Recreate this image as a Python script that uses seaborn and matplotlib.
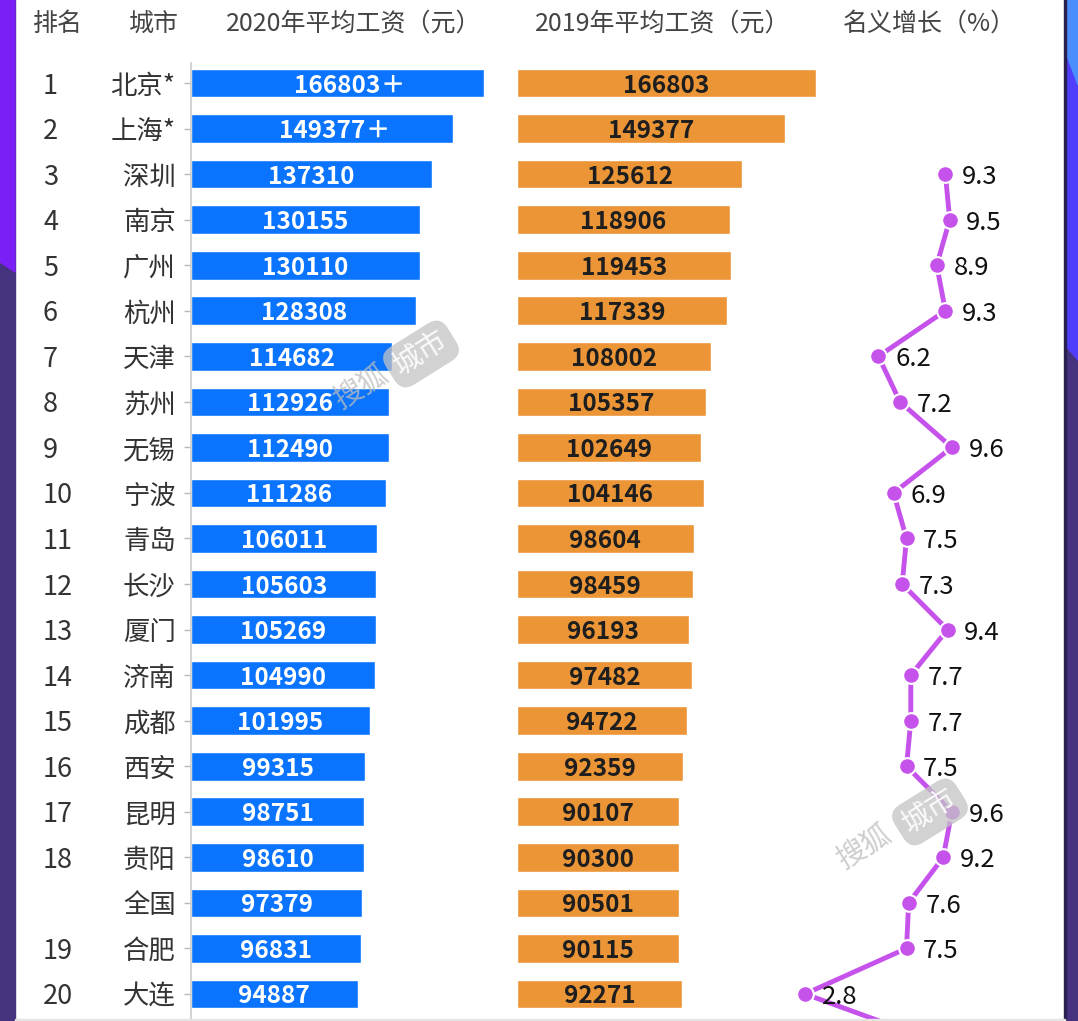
import numpy as np
import pandas as pd
import matplotlib
matplotlib.use("Agg")
import matplotlib.pyplot as plt
import matplotlib.transforms as mtrans
from matplotlib.patches import Polygon, Rectangle
import seaborn as sns

# ---------------- data ----------------
ranks = ['1', '2', '3', '4', '5', '6', '7', '8', '9', '10', '11', '12', '13', '14',
         '15', '16', '17', '18', '', '19', '20']
cities = ['北京*', '上海*', '深圳', '南京', '广州', '杭州', '天津', '苏州', '无锡', '宁波',
          '青岛', '长沙', '厦门', '济南', '成都', '西安', '昆明', '贵阳', '全国', '合肥', '大连']
wage_2020 = [166803, 149377, 137310, 130155, 130110, 128308, 114682, 112926, 112490, 111286,
             106011, 105603, 105269, 104990, 101995, 99315, 98751, 98610, 97379, 96831, 94887]
wage_2020_suffix = ['＋', '＋'] + [''] * 19
wage_2019 = [166803, 149377, 125612, 118906, 119453, 117339, 108002, 105357, 102649, 104146,
             98604, 98459, 96193, 97482, 94722, 92359, 90107, 90300, 90501, 90115, 92271]
growth = [np.nan, np.nan, 9.3, 9.5, 8.9, 9.3, 6.2, 7.2, 9.6, 6.9, 7.5, 7.3, 9.4, 7.7, 7.7,
          7.5, 9.6, 9.2, 7.6, 7.5, 2.8]
growth_next_row = [8.6]   # the cut-off row below the visible area
headers = ['排名', '城市', '2020年平均工资（元）', '2019年平均工资（元）', '名义增长（%）']

# ---------------- style ----------------
sns.set_theme(style='white')
plt.rcParams['font.family'] = ['Noto Sans CJK SC', 'DejaVu Sans']
plt.rcParams['axes.unicode_minus'] = False

W, H = 1078, 1021
fig = plt.figure(figsize=(W / 100, H / 100), dpi=100, facecolor='white')

def fx(px):
    return px / W

def fy(py):
    return 1 - py / H

BLUE = '#0A74FF'
ORANGE = '#EB9537'
PURPLE = '#C652EC'
VA = 'center_baseline'

# side strips of the screenshot
bg = [
    Rectangle((0, 0), fx(15), 1, color='#46337F'),
    Polygon([(0, 1), (fx(15), 1), (fx(15), fy(272)), (0, fy(262))], closed=True, color='#7A1FF6'),
    Rectangle((fx(1065), 0), 1 - fx(1065), 1, color='#46337F'),
    Polygon([(fx(1065), 1), (1, 1), (1, fy(360)), (fx(1065), fy(345))], closed=True, color='#4F3FFD'),
    Polygon([(fx(1065), 1), (1, 1), (1, fy(85)), (fx(1065), fy(50))], closed=True, color='#4A8DFE'),
    Rectangle((fx(1064), 0), fx(2), 1, color='#2A2050'),
    Rectangle((fx(15), 0), fx(1050), fy(1019), color='#E4E4E4'),
]
for p in bg:
    p.set_transform(fig.transFigure)
    fig.patches.append(p)

bottom = fy(1019)
height = fy(63) - bottom
ylim = (20.55, -0.44)

df = pd.DataFrame({'city': cities, 'w2020': wage_2020, 'w2019': wage_2019})

# ---------------- 2020 bars ----------------
ax1 = fig.add_axes([fx(191), bottom, fx(298.6), height])
ax1.set_facecolor('none')
sns.barplot(data=df, x='w2020', y='city', orient='h', color=BLUE, saturation=1,
            width=0.63, ax=ax1)
ax1.set_xlim(0, 170000)
ax1.set_ylim(*ylim)
ax1.set_xlabel('')
ax1.set_ylabel('')
ax1.set_xticks([])
for s in ['top', 'right', 'bottom']:
    ax1.spines[s].set_visible(False)
ax1.spines['left'].set_color('#CCCCCC')
ax1.spines['left'].set_linewidth(1.2)
ax1.tick_params(axis='y', length=5, width=1, color='#BBBBBB', pad=6,
                labelsize=19, labelcolor='#333333', left=True)
for lab in ax1.get_yticklabels():
    lab.set_verticalalignment(VA)
for i, (v, suf) in enumerate(zip(wage_2020, wage_2020_suffix)):
    t = ax1.text(v / 2, i, f'{v}', ha='center', va=VA, color='white',
                 fontsize=17.5, fontweight='bold')
    if suf:
        ax1.annotate(suf, xy=(1, 0.5), xycoords=t, ha='left', va='center',
                     color='white', fontsize=17.5, fontweight='bold')

# rank column
rank_tr = mtrans.blended_transform_factory(fig.transFigure, ax1.transData)
for i, r in enumerate(ranks):
    fig.text(fx(43), i, r, transform=rank_tr, ha='left', va=VA,
             fontsize=19.5, color='#333333')

# ---------------- 2019 bars ----------------
ax2 = fig.add_axes([fx(517), bottom, fx(304.7), height])
ax2.set_facecolor('none')
sns.barplot(data=df, x='w2019', y='city', orient='h', color=ORANGE, saturation=1,
            width=0.63, ax=ax2)
ax2.set_xlim(0, 170000)
ax2.set_ylim(*ylim)
ax2.set_xlabel('')
ax2.set_ylabel('')
ax2.set_xticks([])
ax2.set_yticks([])
for s in ax2.spines.values():
    s.set_visible(False)
for i, v in enumerate(wage_2019):
    ax2.text(v / 2, i, f'{v}', ha='center', va=VA, color='#1E1E1E',
             fontsize=17.5, fontweight='bold')

# ---------------- growth line ----------------
ax3 = fig.add_axes([fx(744.5), bottom, fx(302.4), height])
ax3.set_facecolor('none')
g_all = growth + growth_next_row
pos = list(range(len(g_all)))
sns.lineplot(x=g_all, y=pos, sort=False, estimator=None, color=PURPLE,
             linewidth=3.5, marker='o', markersize=12, markeredgecolor='white',
             markeredgewidth=1.5, ax=ax3)
ax3.set_xlim(0, 14)
ax3.set_ylim(*ylim)
ax3.set_xticks([])
ax3.set_yticks([])
ax3.set_xlabel('')
ax3.set_ylabel('')
for s in ax3.spines.values():
    s.set_visible(False)
for i, g in enumerate(growth):
    if not np.isnan(g):
        ax3.annotate(f'{g}', xy=(g, i), xytext=(12, 0), textcoords='offset points',
                     ha='left', va=VA, fontsize=18.5, color='#111111')

# ---------------- headers ----------------
hx = [58, 154, 354, 663, 929]
for x, h in zip(hx, headers):
    fig.text(fx(x), fy(21), h, ha='center', va=VA, fontsize=18, color='#444444')

# ---------------- watermarks ----------------
for (sx, sy), (cx, cy) in [((362, 388), (421, 354)), ((865, 848), (930, 812))]:
    fig.text(fx(sx), fy(sy), '搜狐', rotation=32, ha='center', va='center',
             fontsize=21, color='#BDBDBD', alpha=0.75, rotation_mode='anchor')
    fig.text(fx(cx), fy(cy), '城市', rotation=32, ha='center', va='center',
             fontsize=21, color='white', alpha=0.9, rotation_mode='anchor',
             bbox=dict(boxstyle='round,pad=0.25,rounding_size=0.5',
                       fc='#C4C4C4', ec='none', alpha=0.75))

fig.savefig('out.png', dpi=100, facecolor='white')
